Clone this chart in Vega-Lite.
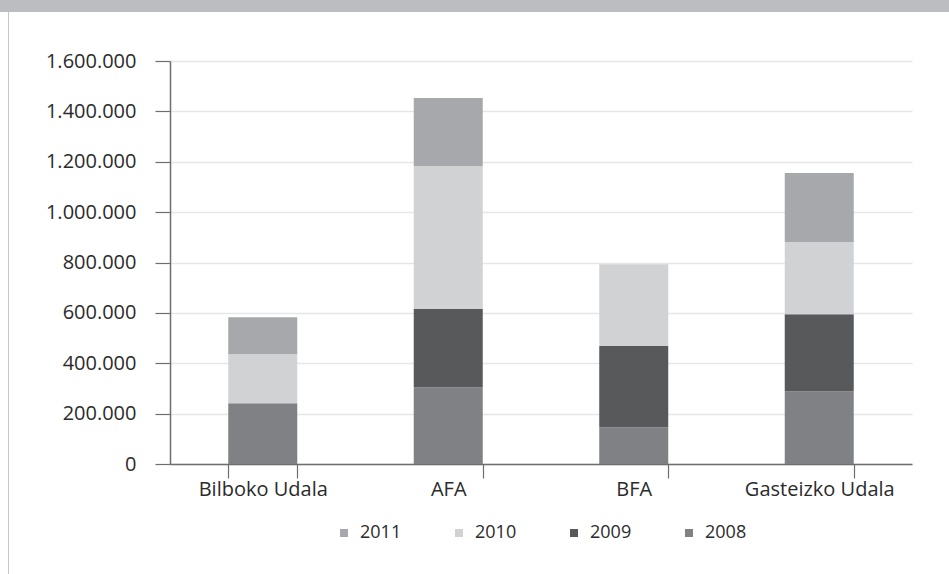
{
  "$schema": "https://vega.github.io/schema/vega-lite/v6.json",
  "padding": 0,
  "background": "white",
  "spacing": -20,
  "resolve": {"scale": {"color": "independent"}, "legend": {"color": "independent"}},
  "config": {
    "view": {"stroke": null},
    "locale": {"number": {"decimal": ",", "thousands": ".", "grouping": [3], "currency": ["", " €"]}},
    "font": "Open Sans",
    "legend": {"layout": {"bottom": {"anchor": "middle"}}}
  },
  "vconcat": [
    {
      "data": {"values": []},
      "mark": {"type": "point"},
      "encoding": {},
      "width": 949,
      "height": 12,
      "view": {"fill": "#bcbdc0", "stroke": null}
    },
    {
      "spacing": 0,
      "hconcat": [
        {
          "data": {"values": []},
          "mark": {"type": "point"},
          "encoding": {},
          "width": 8,
          "height": 49,
          "view": {"stroke": null}
        },
        {
          "data": {"values": []},
          "mark": {"type": "point"},
          "encoding": {},
          "width": 1,
          "height": 49,
          "view": {"fill": "#c6c6c8", "stroke": null}
        }
      ]
    },
    {
      "spacing": 0,
      "resolve": {"scale": {"color": "independent"}, "legend": {"color": "independent"}},
      "hconcat": [
        {
          "data": {"values": []},
          "mark": {"type": "point"},
          "encoding": {},
          "width": 8,
          "height": 513,
          "view": {"stroke": null}
        },
        {
          "data": {"values": []},
          "mark": {"type": "point"},
          "encoding": {},
          "width": 1,
          "height": 513,
          "view": {"fill": "#c6c6c8", "stroke": null}
        },
        {
          "width": 742,
          "height": 403,
          "data": {
            "values": [
              {"org": "Bilboko Udala", "year": "2008", "value": 241000},
              {"org": "Bilboko Udala", "year": "2010", "value": 195000},
              {"org": "Bilboko Udala", "year": "2011", "value": 147000},
              {"org": "AFA", "year": "2008", "value": 305000},
              {"org": "AFA", "year": "2009", "value": 310000},
              {"org": "AFA", "year": "2010", "value": 568000},
              {"org": "AFA", "year": "2011", "value": 270000},
              {"org": "BFA", "year": "2008", "value": 146000},
              {"org": "BFA", "year": "2009", "value": 322000},
              {"org": "BFA", "year": "2010", "value": 325000},
              {"org": "Gasteizko Udala", "year": "2008", "value": 289000},
              {"org": "Gasteizko Udala", "year": "2009", "value": 306000},
              {"org": "Gasteizko Udala", "year": "2010", "value": 286000},
              {"org": "Gasteizko Udala", "year": "2011", "value": 274000}
            ]
          },
          "mark": {"type": "bar"},
          "encoding": {
            "x": {
              "field": "org",
              "type": "nominal",
              "sort": ["Bilboko Udala", "AFA", "BFA", "Gasteizko Udala"],
              "scale": {"paddingInner": 0.628, "paddingOuter": 0.314},
              "axis": {
                "title": null,
                "labelAngle": 0,
                "tickBand": "extent",
                "tickSize": 14,
                "tickColor": "#6d6e71",
                "tickWidth": 1.2,
                "domainColor": "#6d6e71",
                "domainWidth": 1.5,
                "labelFont": "Open Sans",
                "labelFontSize": 20,
                "labelColor": "#2b2b2b",
                "labelPadding": 1,
                "grid": false
              }
            },
            "y": {
              "field": "value",
              "type": "quantitative",
              "stack": "zero",
              "scale": {"domain": [0, 1600000], "nice": false},
              "axis": {
                "title": null,
                "tickCount": 8,
                "format": ",d",
                "tickSize": 15,
                "tickColor": "#6d6e71",
                "tickWidth": 1.2,
                "domainColor": "#6d6e71",
                "domainWidth": 1.5,
                "labelFont": "Open Sans",
                "labelFontSize": 20,
                "labelColor": "#2b2b2b",
                "labelPadding": 19,
                "gridColor": "#e6e6e6",
                "gridWidth": 1.5,
                "minExtent": 161
              }
            },
            "color": {
              "field": "year",
              "type": "nominal",
              "scale": {
                "domain": ["2011", "2010", "2009", "2008"],
                "range": ["#a7a8ab", "#d1d2d4", "#58595b", "#808184"]
              },
              "legend": {
                "title": null,
                "orient": "bottom",
                "direction": "horizontal",
                "symbolType": "square",
                "symbolSize": 64,
                "symbolStrokeWidth": 0,
                "labelFont": "Open Sans",
                "labelFontSize": 18,
                "labelColor": "#2b2b2b",
                "labelOffset": 7,
                "columnPadding": 48,
                "offset": 25
              }
            },
            "order": {"field": "year", "sort": "ascending"}
          }
        }
      ]
    }
  ]
}
